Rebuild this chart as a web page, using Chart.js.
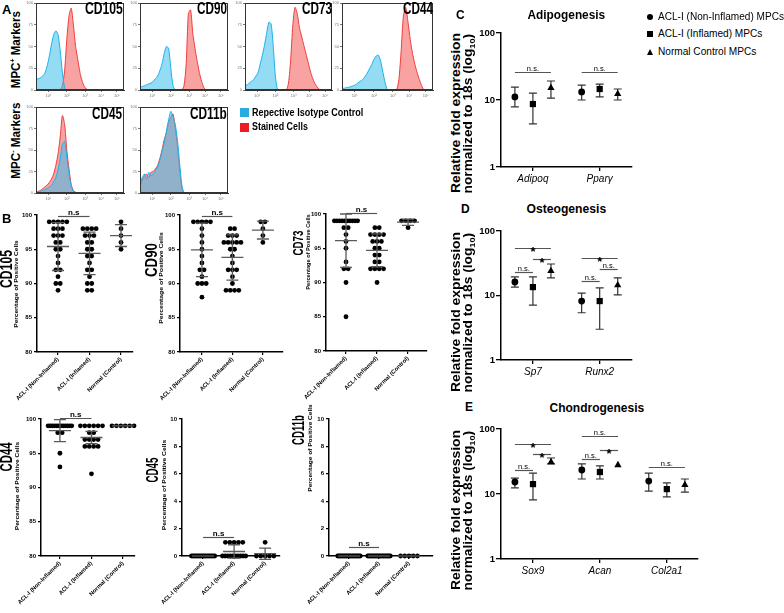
<!DOCTYPE html>
<html>
<head>
<meta charset="utf-8">
<script src="https://cdn.jsdelivr.net/npm/chart.js@4.4.1/dist/chart.umd.min.js"></script>
<style>
  body { margin: 0; width: 784px; height: 613px; position: relative; overflow: hidden; background: #fff;
         font-family: "Liberation Sans", Arial, sans-serif; }
  canvas { position: absolute; }
  .t { position: absolute; white-space: nowrap; line-height: 1; color: #000; }
  .mk { position: absolute; background: #000; }
</style>
</head>
<body>
<script>
const FONT = '"Liberation Sans", Arial, sans-serif';
Chart.defaults.font.family = FONT;
Chart.defaults.color = '#000';

// ---------- A: flow histograms, % of mode on a channel grid ----------
const histBins = [0,2.5,5,7.5,10,12.5,15,17.5,20,22.5,25,27.5,30,32.5,35,37.5,40,42.5,45,47.5,50,
                  52.5,55,57.5,60,62.5,65,67.5,70,72.5,75,77.5,80,82.5,85,87.5,90,92.5,95,97.5,100];
const histTicks = [14, 35, 56, 74, 92];
const histTickLabels = ['10¹', '10²', '10³', '10⁴', '10⁵'];

const cd105Iso   = [12,13,14,16,19,27,38,52,63,68,64,45,20,3,0,0,0,0,0,0,0,0,0,0,0,0,0,0,0,0,0,0,0,0,0,0,0,0,0,0,0];
const cd105Stain = [0,0,0,0,0,0,0,0,0,0,0,0,5,22,58,85,94,75,50,35,20,10,4,1,0,0,0,0,0,0,0,0,0,0,0,0,0,0,0,0,0];
const cd90Iso     = [3,4,5,6,7,8,10,13,16,22,30,42,50,48,25,5,0,0,0,0,0,0,0,0,0,0,0,0,0,0,0,0,0,0,0,0,0,0,0,0,0];
const cd90Stain   = [0,0,0,0,0,0,0,0,0,0,0,0,0,0,0,0,0,0,0,0,5,30,88,92,65,48,33,20,10,3,0,0,0,0,0,0,0,0,0,0,0];
const cd73Iso     = [5,6,8,10,12,16,20,30,40,52,66,78,76,50,15,0,0,0,0,0,0,0,0,0,0,0,0,0,0,0,0,0,0,0,0,0,0,0,0,0,0];
const cd73Stain   = [0,0,0,0,0,0,0,0,0,0,0,0,0,0,0,0,0,0,0,0,8,35,75,95,88,72,62,52,42,32,22,14,8,4,1,0,0,0,0,0,0];
const cd44Iso     = [2,2,3,3,4,5,6,8,10,12,15,19,24,29,35,39,40,33,20,8,0,0,0,0,0,0,0,0,0,0,0,0,0,0,0,0,0,0,0,0,0];
const cd44Stain   = [0,0,0,0,0,0,0,0,0,0,0,0,0,0,0,0,0,0,0,0,0,0,0,0,0,12,45,85,95,78,58,42,30,20,12,5,0,0,0,0,0];
const cd45Iso     = [1,1,2,3,4,5,7,9,13,18,27,40,57,60,42,22,8,2,0,0,0,0,0,0,0,0,0,0,0,0,0,0,0,0,0,0,0,0,0,0,0];
const cd45Stain   = [1,2,3,5,7,9,12,16,22,32,45,65,90,80,50,28,10,3,1,0,0,0,0,0,0,0,0,0,0,0,0,0,0,0,0,0,0,0,0,0,0];
const cd11bIso    = [10,18,22,16,24,20,22,26,30,38,48,58,72,85,95,88,80,62,35,10,0,0,0,0,0,0,0,0,0,0,0,0,0,0,0,0,0,0,0,0,0];
const cd11bStain  = [8,15,20,22,18,24,25,28,32,40,50,62,70,82,88,92,76,55,28,6,0,0,0,0,0,0,0,0,0,0,0,0,0,0,0,0,0,0,0,0,0];

// ---------- B: % positive cells per donor ----------
const bGroups = ['ACL-I (Non-Inflamed)', 'ACL-I (Inflamed)', 'Normal (Control)'];

const cd105Non  = [99,99,99,99,99,98,98,98,97,97,97,96,96,95,95,94,93,92,92,91,90,90,89];
const cd105Inf  = [98,98,98,98,97,97,97,96,96,95,95,94,94,93,92,92,91,90,90,89,89];
const cd105Norm = [99,98,97,96,95];
const cd105Mean = [95.4, 94.4, 97.0];
const cd105Sd   = [3.5, 3.1, 1.6];

const cd90Non  = [99,99,99,99,99,98,97,96,95,94,93,92,92,91,90,90,90,88];
const cd90Inf  = [98,98,97,97,97,96,96,96,96,96,95,95,94,93,92,92,92,91,90,89,89,89,89];
const cd90Norm = [99,99,98,97,96];
const cd90Mean = [94.9, 93.8, 97.8];
const cd90Sd   = [3.9, 3.3, 1.3];

const cd73Non  = [99,99,99,99,99,99,99,99,99,99,98,98,97,96,95,93,92,92,90,85];
const cd73Inf  = [98,98,97,97,97,97,96,96,96,95,95,94,94,93,93,92,92,92,92,90];
const cd73Norm = [99,99,99,99,98];
const cd73Mean = [96.1, 94.7, 98.8];
const cd73Sd   = [3.9, 2.4, 0.45];

const cd44Non  = [99,99,99,99,99,99,99,99,99,99,99,99,98,98,95,93];
const cd44Inf  = [99,99,99,99,99,99,98,98,97,97,97,97,96,96,96,96,92];
const cd44Norm = [99,99,99,99,99,99];
const cd44Mean = [98.3, 97.3, 99];
const cd44Sd   = [1.6, 0.9, 0];

const cd45Non  = [0,0,0,0,0,0,0,0,0,0,0,0,0,0,0,0];
const cd45Inf  = [1,1,1,1,1,0,0,0,0,0,0,0,0,0,0];
const cd45Norm = [1,0,0,0,0,0];
const cd45Mean = [0, 0.33, 0.17];
const cd45Sd   = [0, 0.49, 0.41];

const cd11bNon  = [0,0,0,0,0,0,0,0,0,0,0,0,0,0,0,0,0,0];
const cd11bInf  = [0,0,0,0,0,0,0,0,0,0,0,0,0,0,0,0,0,0];
const cd11bNorm = [0,0,0,0,0];
const cd11bMean = [0, 0, 0];
const cd11bSd   = [0, 0, 0];

// n.s. bar height between the two ACL-I groups
const bNsLevel = { cd105: 99.9, cd90: 99.9, cd73: 100.1, cd44: 100.1, cd45: 1.4, cd11b: 0.65 };

// ---------- C-E: relative fold expression (mean, lower, upper) ----------
const adiGenes = ['Adipoq', 'Pparγ'];
const adiNonMean = [11.1, 13.2], adiNonLo = [7.9, 10.0], adiNonHi = [15.6, 16.7];
const adiInfMean = [8.7, 14.6],  adiInfLo = [4.4, 11.1], adiInfHi = [12.7, 17.3];
const adiNorMean = [15.1, 12.3], adiNorLo = [10.7, 10.0], adiNorHi = [19.2, 14.6];
// [gene, from group, to group, bar level, label]
const adiSig = [[0, 0, 2, 26.2, 'n.s.'], [1, 0, 2, 26.2, 'n.s.']];

const osteoGenes = ['Sp7', 'Runx2'];
const osteoNonMean = [16.2, 8.2], osteoNonLo = [13.5, 5.4], osteoNonHi = [19.4, 10.9];
const osteoInfMean = [13.5, 8.2], osteoInfLo = [7.1, 3.0],  osteoInfHi = [19.4, 13.1];
const osteoNorMean = [24, 14.5],  osteoNorLo = [18.7, 10.2], osteoNorHi = [30.8, 18.7];
const osteoSig = [[0, 0, 2, 54.5, '*'], [0, 1, 2, 36.7, '*'], [0, 0, 1, 23.1, 'n.s.'],
                  [1, 0, 2, 38.2, '*'], [1, 1, 2, 25.7, 'n.s.'], [1, 0, 1, 16.7, 'n.s.']];

const chondroGenes = ['Sox9', 'Acan', 'Col2a1'];
const chondroNonMean = [15.3, 23.4, 15.8], chondroNonLo = [12.4, 17, 11.1], chondroNonHi = [17.6, 29, 21];
const chondroInfMean = [14.2, 21.8, 11.9], chondroInfLo = [8.1, 17, 9.0],   chondroInfHi = [21, 27, 14.8];
const chondroNorMean = [31, 27.9, 13.8],   chondroNorLo = [29, 27.9, 10.7], chondroNorHi = [35.8, 27.9, 17];
const chondroSig = [[0, 0, 2, 58.8, '*'], [0, 1, 2, 41.2, '*'], [0, 0, 1, 23.4, 'n.s.'],
                    [1, 0, 2, 78.2, 'n.s.'], [1, 1, 2, 47.5, '*'], [1, 0, 1, 34.6, 'n.s.'],
                    [2, 0, 2, 26.1, 'n.s.']];

// ---------- helpers ----------
function makeCanvas(area, yW, xH, padT, padR) {
  const [l, t, r, b] = area;
  const c = document.createElement('canvas');
  const w = Math.round(yW + (r - l) + padR), h = Math.round(padT + (b - t) + xH);
  c.width = w; c.height = h;
  c.style.left = (l - yW) + 'px';
  c.style.top = (t - padT) + 'px';
  c.style.width = w + 'px';
  c.style.height = h + 'px';
  document.body.appendChild(c);
  return c;
}
// keep the plot box exactly where we put it
const fixX = h => s => { s.height = h; s.paddingLeft = 0; s.paddingRight = 0; };
const fixY = w => s => { s.width = w; s.paddingTop = 0; s.paddingBottom = 0; };

function addText(html, x, y, size, o = {}) {
  const d = document.createElement('div');
  d.className = 't';
  d.innerHTML = html;
  d.style.fontSize = size + 'px';
  d.style.fontWeight = o.normal ? 'normal' : 'bold';
  if (o.italic) d.style.fontStyle = 'italic';
  document.body.appendChild(d);
  const w = d.offsetWidth, h = d.offsetHeight;
  const s = o.len ? o.len / w : 1;
  d.style.top = (y - h / 2) + 'px';
  if (o.rot) {
    d.style.left = (x - w / 2) + 'px';
    d.style.transform = `rotate(-90deg) scaleX(${s})`;
  } else {
    const al = o.align || 'l';
    d.style.left = (al === 'l' ? x : al === 'c' ? x - w / 2 : x - w) + 'px';
    d.style.transformOrigin = al === 'l' ? 'left center' : al === 'c' ? 'center' : 'right center';
    d.style.transform = `scaleX(${s})`;
  }
  return d;
}

function box(x, y, w, h, color, extra) {
  const d = document.createElement('div');
  d.className = 'mk';
  Object.assign(d.style, { left: x + 'px', top: y + 'px', width: w + 'px', height: h + 'px', background: color }, extra || {});
  document.body.appendChild(d);
}

const base = {
  responsive: false,
  animation: false,
  events: [],
};
const noLegend = { legend: { display: false }, tooltip: { enabled: false } };

// ---------- A ----------
const framePlugin = {
  id: 'frame',
  afterDraw(ch) {
    const a = ch.chartArea, c = ch.ctx;
    c.save();
    c.strokeStyle = '#333';
    c.lineWidth = 1;
    c.strokeRect(a.left + 0.5, a.top + 0.5, a.right - a.left - 1, a.bottom - a.top - 1);
    c.restore();
  }
};

function histChart(area, iso, stain) {
  const c = makeCanvas(area, 12, 9, 2, 2);
  const toXY = arr => arr.map((v, i) => ({ x: histBins[i], y: v }));
  new Chart(c, {
    type: 'line',
    data: {
      datasets: [
        { data: toXY(iso), borderColor: '#1ab2ea', backgroundColor: 'rgba(60,190,235,0.55)', fill: 'origin', order: 0 },
        { data: toXY(stain), borderColor: '#f03c3c', backgroundColor: 'rgba(244,100,100,0.6)', fill: 'origin', order: 1 },
      ]
    },
    options: {
      ...base,
      layout: { padding: { top: 2, right: 2 } },
      plugins: noLegend,
      elements: { point: { radius: 0 }, line: { tension: 0.25, borderWidth: 1 } },
      scales: {
        x: {
          type: 'linear', min: 0, max: 100, afterFit: fixX(9),
          afterBuildTicks: s => { s.ticks = histTicks.map(v => ({ value: v })); },
          ticks: { callback: (v, i) => histTickLabels[i], font: { size: 4 }, color: '#777', padding: 1, maxRotation: 0 },
          grid: { drawOnChartArea: false, tickLength: 2, color: '#777' },
          border: { color: '#333' }
        },
        y: {
          min: 0, max: 100, afterFit: fixY(12),
          ticks: { stepSize: 25, font: { size: 4 }, color: '#777', padding: 1 },
          grid: { drawOnChartArea: false, tickLength: 2, color: '#777' },
          border: { color: '#333' }
        }
      }
    },
    plugins: [framePlugin]
  });
}

histChart([36, 3, 124, 90], cd105Iso, cd105Stain);
histChart([140, 3, 228, 90], cd90Iso, cd90Stain);
histChart([245, 3, 332, 90], cd73Iso, cd73Stain);
histChart([342, 3, 433, 90], cd44Iso, cd44Stain);
histChart([36, 107, 124, 193], cd45Iso, cd45Stain);
histChart([140, 107, 228, 193], cd11bIso, cd11bStain);

addText('A', 2, 9, 13);
addText('MPC<sup style="font-size:8px">+</sup> Markers', 15, 49, 13, { rot: true, len: 77 });
addText('MPC<sup style="font-size:8px">-</sup> Markers', 15, 140, 13, { rot: true, len: 76 });
addText('CD105', 123, 9, 16, { align: 'r', len: 38 });
addText('CD90', 227, 9, 16, { align: 'r', len: 30 });
addText('CD73', 332, 9, 16, { align: 'r', len: 30 });
addText('CD44', 433, 9, 16, { align: 'r', len: 30 });
addText('CD45', 122, 114, 16, { align: 'r', len: 30 });
addText('CD11b', 227, 114, 16, { align: 'r', len: 37 });
box(240, 108, 9, 9, '#29abe2');
box(240, 123, 9, 9, '#ed1c24');
addText('Repective Isotype Control', 252, 113, 10, { len: 111 });
addText('Stained Cells', 252, 127, 10, { len: 56 });

// ---------- B ----------
function swarm(vals, gi, step = 0.14, maxW = 0.75) {
  const counts = {}, seen = {};
  vals.forEach(v => { counts[v] = (counts[v] || 0) + 1; });
  return vals.map(v => {
    const n = counts[v];
    const k = seen[v] = (seen[v] === undefined ? 0 : seen[v] + 1);
    const st = n > 1 ? Math.min(step, maxW / (n - 1)) : 0;
    return { x: gi + (k - (n - 1) / 2) * st, y: v };
  });
}

const meanSdPlugin = (mean, sd) => ({
  id: 'meanSd',
  afterDatasetsDraw(ch) {
    const { ctx, scales: { x, y } } = ch;
    ctx.save();
    ctx.strokeStyle = '#5a5a5a';
    ctx.lineWidth = 1.3;
    mean.forEach((m, i) => {
      const cx = x.getPixelForValue(i);
      const ym = y.getPixelForValue(m);
      ctx.beginPath();
      ctx.moveTo(cx - 11, ym); ctx.lineTo(cx + 11, ym);
      if (sd[i] > 0) {
        const yl = y.getPixelForValue(m - sd[i]), yh = y.getPixelForValue(m + sd[i]);
        ctx.moveTo(cx, yl); ctx.lineTo(cx, yh);
        ctx.moveTo(cx - 6, yl); ctx.lineTo(cx + 6, yl);
        ctx.moveTo(cx - 6, yh); ctx.lineTo(cx + 6, yh);
      }
      ctx.stroke();
    });
    ctx.restore();
  }
});

const nsPlugin = level => ({
  id: 'nsBar',
  afterDraw(ch) {
    const { ctx, scales: { x, y } } = ch;
    const yy = Math.round(y.getPixelForValue(level)) + 0.5;
    const x0 = x.getPixelForValue(0), x1 = x.getPixelForValue(1);
    ctx.save();
    ctx.strokeStyle = '#555';
    ctx.lineWidth = 1.2;
    ctx.beginPath(); ctx.moveTo(x0, yy); ctx.lineTo(x1, yy); ctx.stroke();
    ctx.fillStyle = '#000';
    ctx.font = 'bold 8px ' + FONT;
    ctx.textAlign = 'center';
    ctx.textBaseline = 'alphabetic';
    ctx.fillText('n.s', (x0 + x1) / 2, yy - 2);
    ctx.restore();
  }
});

function dotChart(area, xr, yr, yStep, groups, mean, sd, nsLevel) {
  const c = makeCanvas(area, 30, 52, 12, 4);
  const pts = [];
  groups.forEach((vals, gi) => pts.push(...swarm(vals, gi)));
  new Chart(c, {
    type: 'scatter',
    data: { datasets: [{ data: pts, pointRadius: 2.4, pointBackgroundColor: '#000', pointBorderWidth: 0, clip: false }] },
    options: {
      ...base,
      layout: { padding: { top: 12, right: 4 } },
      plugins: noLegend,
      scales: {
        x: {
          type: 'linear', min: xr[0], max: xr[1], afterFit: fixX(52),
          afterBuildTicks: s => { s.ticks = bGroups.map((g, i) => ({ value: i })); },
          ticks: { callback: v => bGroups[Math.round(v)], minRotation: 45, maxRotation: 45,
                   font: { size: 5.8, weight: 'bold' }, padding: 1 },
          grid: { drawOnChartArea: false, tickLength: 3, color: '#000', lineWidth: 1.2 },
          border: { color: '#000', width: 1.5 }
        },
        y: {
          min: yr[0], max: yr[1], afterFit: fixY(30),
          ticks: { stepSize: yStep, font: { size: 6, weight: 'bold' }, padding: 2 },
          grid: { drawOnChartArea: false, tickLength: 3, color: '#000', lineWidth: 1.2 },
          border: { color: '#000', width: 1.5 }
        }
      }
    },
    plugins: [meanSdPlugin(mean, sd), nsPlugin(nsLevel)]
  });
}

dotChart([37, 215, 133, 352], [-0.667, 2.38], [80, 100], 5, [cd105Non, cd105Inf, cd105Norm], cd105Mean, cd105Sd, bNsLevel.cd105);
dotChart([180, 215, 283, 352], [-0.72, 2.66], [80, 100], 5, [cd90Non, cd90Inf, cd90Norm], cd90Mean, cd90Sd, bNsLevel.cd90);
dotChart([326, 214, 427, 351], [-0.645, 2.61], [80, 100], 5, [cd73Non, cd73Inf, cd73Norm], cd73Mean, cd73Sd, bNsLevel.cd73);
dotChart([41, 419, 135, 556], [-0.6, 2.38], [80, 100], 5, [cd44Non, cd44Inf, cd44Norm], cd44Mean, cd44Sd, bNsLevel.cd44);
dotChart([182, 419, 280, 556], [-0.68, 2.48], [0, 10], 2, [cd45Non, cd45Inf, cd45Norm], cd45Mean, cd45Sd, bNsLevel.cd45);
dotChart([329, 419, 433, 556], [-0.667, 2.8], [0, 10], 2, [cd11bNon, cd11bInf, cd11bNorm], cd11bMean, cd11bSd, bNsLevel.cd11b);

addText('B', 2, 218, 13);
addText('CD105', 7, 269, 16, { rot: true, len: 38 });
addText('Percentage of Positive Cells', 16, 284, 6, { rot: true, len: 87 });
addText('CD90', 152, 260, 16, { rot: true, len: 34 });
addText('Percentage of Positive Cells', 161, 278, 6, { rot: true, len: 91 });
addText('CD73', 298, 243, 14, { rot: true, len: 25 });
addText('Percentage of Positive Cells', 308, 252, 6, { rot: true, len: 75 });
addText('CD44', 7, 457, 16, { rot: true, len: 29 });
addText('Percentage of Positive Cells', 17, 486, 6, { rot: true, len: 88 });
addText('CD45', 153, 470, 16, { rot: true, len: 25 });
addText('Percentage of Positive Cells', 164, 485, 6, { rot: true, len: 90 });
addText('CD11b', 299, 430, 16, { rot: true, len: 30 });
addText('Percentage of Positive Cells', 310, 448, 6, { rot: true, len: 87 });

// ---------- C-E ----------
const grpOff = [-0.27, 0, 0.27];
const grpStyle = ['circle', 'rect', 'triangle'];
const grpRadius = [3.4, 4.4, 4.2];

const errPlugin = (means, los, his) => ({
  id: 'errBars',
  beforeDatasetsDraw(ch) {
    const { ctx, scales: { x, y } } = ch;
    ctx.save();
    ctx.strokeStyle = '#333';
    ctx.lineWidth = 1.2;
    means.forEach((m, g) => m.forEach((v, i) => {
      if (his[g][i] <= los[g][i]) return;
      const cx = x.getPixelForValue(i + grpOff[g]);
      const yl = y.getPixelForValue(los[g][i]), yh = y.getPixelForValue(his[g][i]);
      ctx.beginPath();
      ctx.moveTo(cx, yl); ctx.lineTo(cx, yh);
      ctx.moveTo(cx - 4, yl); ctx.lineTo(cx + 4, yl);
      ctx.moveTo(cx - 4, yh); ctx.lineTo(cx + 4, yh);
      ctx.stroke();
    }));
    ctx.restore();
  }
});

const sigPlugin = sig => ({
  id: 'sigBars',
  afterDraw(ch) {
    const { ctx, scales: { x, y } } = ch;
    ctx.save();
    sig.forEach(([gi, a, b, lvl, lab]) => {
      const x0 = x.getPixelForValue(gi + grpOff[a]), x1 = x.getPixelForValue(gi + grpOff[b]);
      const yy = Math.round(y.getPixelForValue(lvl)) + 0.5;
      ctx.strokeStyle = '#555';
      ctx.lineWidth = 1.2;
      ctx.beginPath(); ctx.moveTo(x0, yy); ctx.lineTo(x1, yy); ctx.stroke();
      ctx.fillStyle = '#000';
      ctx.textAlign = 'center';
      ctx.textBaseline = 'alphabetic';
      if (lab === '*') {
        ctx.font = 'bold 13px ' + FONT;
        ctx.fillText(lab, (x0 + x1) / 2, yy + 7);
      } else {
        ctx.font = '7.5px ' + FONT;
        ctx.fillText(lab, (x0 + x1) / 2, yy - 2);
      }
    });
    ctx.restore();
  }
});

function geneChart(area, xMax, genes, means, los, his, sig) {
  const c = makeCanvas(area, 34, 26, 6, 4);
  const datasets = means.map((m, g) => ({
    data: m.map((v, i) => ({ x: i + grpOff[g], y: v })),
    pointStyle: grpStyle[g], pointRadius: grpRadius[g],
    pointBackgroundColor: '#000', pointBorderWidth: 0, clip: false
  }));
  new Chart(c, {
    type: 'scatter',
    data: { datasets },
    options: {
      ...base,
      layout: { padding: { top: 6, right: 4 } },
      plugins: noLegend,
      scales: {
        x: {
          type: 'linear', min: -0.478, max: xMax, afterFit: fixX(26),
          afterBuildTicks: s => { s.ticks = genes.map((g, i) => ({ value: i })); },
          ticks: { callback: v => genes[Math.round(v)], maxRotation: 0, font: { size: 10, style: 'italic' }, padding: 2 },
          grid: { drawOnChartArea: false, tickLength: 4, color: '#000', lineWidth: 1.3 },
          border: { color: '#000', width: 1.5 }
        },
        y: {
          type: 'logarithmic', min: 1, max: 100, afterFit: fixY(34),
          afterBuildTicks: s => { s.ticks = [1, 10, 100].map(v => ({ value: v })); },
          ticks: { callback: v => String(v), font: { size: 9.5, weight: 'bold' }, padding: 1 },
          grid: { drawOnChartArea: false, tickLength: 5, color: '#000', lineWidth: 1.3 },
          border: { color: '#000', width: 1.5 }
        }
      }
    },
    plugins: [errPlugin(means, los, his), sigPlugin(sig)]
  });
}

geneChart([501, 33, 632, 167], 1.478, adiGenes,
  [adiNonMean, adiInfMean, adiNorMean], [adiNonLo, adiInfLo, adiNorLo], [adiNonHi, adiInfHi, adiNorHi], adiSig);
geneChart([501, 231, 632, 360], 1.478, osteoGenes,
  [osteoNonMean, osteoInfMean, osteoNorMean], [osteoNonLo, osteoInfLo, osteoNorLo], [osteoNonHi, osteoInfHi, osteoNorHi], osteoSig);
geneChart([501, 429, 698, 559], 2.46, chondroGenes,
  [chondroNonMean, chondroInfMean, chondroNorMean], [chondroNonLo, chondroInfLo, chondroNorLo], [chondroNonHi, chondroInfHi, chondroNorHi], chondroSig);

addText('C', 456, 15, 12);
addText('D', 461, 209, 12);
addText('E', 465, 407, 12);
addText('Adipogenesis', 566, 15, 12, { align: 'c', len: 78 });
addText('Osteogenesis', 566, 209, 12, { align: 'c', len: 80 });
addText('Chondrogenesis', 597, 408, 12, { align: 'c', len: 95 });
[[113], [312], [510]].forEach(([cy]) => {
  addText('Relative fold expression', 456, cy, 12, { rot: true, len: 160 });
  addText('normalized to 18s (log<sub style="font-size:8px">10</sub>)', 470, cy, 12, { rot: true, len: 160 });
});

// legend
box(647, 14, 6, 6, '#000', { borderRadius: '50%' });
box(647, 31, 6, 6, '#000');
box(646.5, 49, 0, 0, 'transparent', { borderLeft: '3.5px solid transparent', borderRight: '3.5px solid transparent', borderBottom: '6px solid #000' });
addText('ACL-I (Non-Inflamed) MPCs', 658, 17, 10, { normal: true, len: 126 });
addText('ACL-I (Inflamed) MPCs', 658, 34, 10, { normal: true, len: 104 });
addText('Normal Control MPCs', 658, 52, 10, { normal: true, len: 98 });
</script>
</body>
</html>
